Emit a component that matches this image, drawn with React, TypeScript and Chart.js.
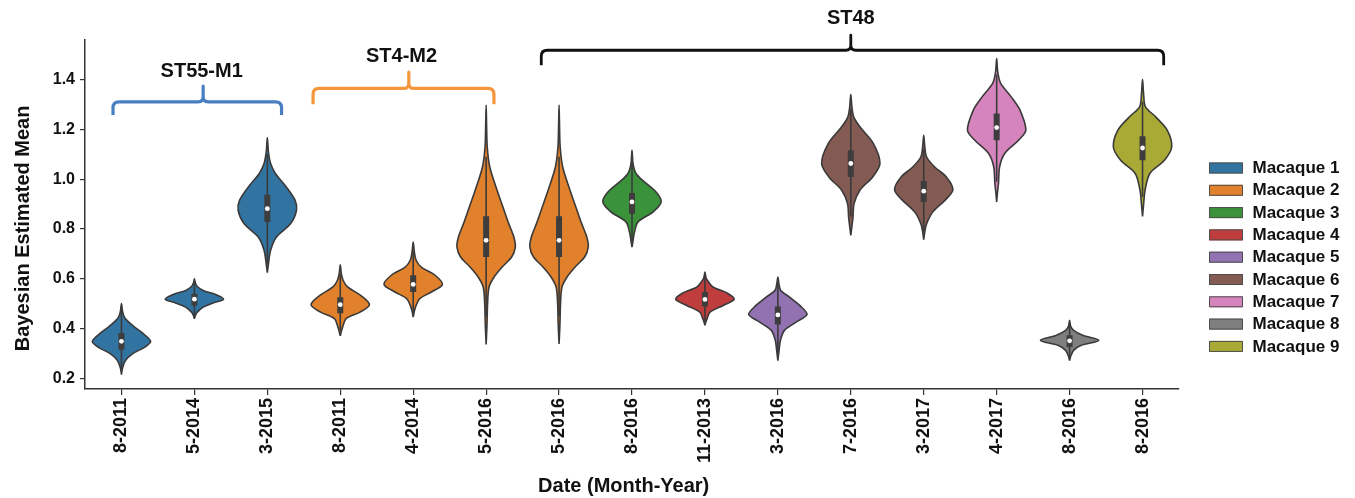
import React, { useEffect, useRef } from 'react';
import { Chart, registerables } from 'chart.js';

Chart.register(...registerables);

const FONT = '"Liberation Sans", Arial, Helvetica, sans-serif';

// ---- categories ----
const dates = ['8-2011', '5-2014', '3-2015', '8-2011', '4-2014', '5-2016', '5-2016', '8-2016', '11-2013', '3-2016', '7-2016', '3-2017', '4-2017', '8-2016', '8-2016'];
const macaqueOf = [1, 1, 1, 2, 2, 2, 2, 3, 4, 5, 6, 6, 7, 8, 9];
const macaqueNames = ['Macaque 1', 'Macaque 2', 'Macaque 3', 'Macaque 4', 'Macaque 5', 'Macaque 6', 'Macaque 7', 'Macaque 8', 'Macaque 9'];
const macaqueColors = ['#3274A1', '#E1812C', '#3A923A', '#C03D3E', '#9372B2', '#845B53', '#D684BD', '#7F7F7F', '#A9AA35'];

// ---- inner box statistics ----
const medians = [0.35, 0.519, 0.882, 0.497, 0.578, 0.755, 0.755, 0.909, 0.518, 0.456, 1.063, 0.952, 1.207, 0.352, 1.125];
const q1 = [0.316, 0.494, 0.828, 0.463, 0.548, 0.688, 0.688, 0.862, 0.49, 0.418, 1.009, 0.909, 1.156, 0.327, 1.076];
const q3 = [0.383, 0.541, 0.938, 0.527, 0.615, 0.851, 0.851, 0.945, 0.548, 0.49, 1.116, 0.993, 1.263, 0.374, 1.172];
const whiskerLow = [0.23, 0.45, 0.66, 0.39, 0.46, 0.45, 0.45, 0.74, 0.42, 0.30, 0.85, 0.79, 0.99, 0.28, 0.93];
const whiskerHigh = [0.48, 0.59, 1.10, 0.62, 0.71, 1.09, 1.09, 1.07, 0.62, 0.59, 1.28, 1.12, 1.42, 0.42, 1.31];

// ---- density profiles: [value, half-width in category units], bottom tip -> top tip ----
const shape01 = [[0.217, 0], [0.24, 0.012], [0.273, 0.055], [0.30, 0.15], [0.327, 0.32], [0.35, 0.40], [0.383, 0.29], [0.407, 0.18], [0.43, 0.09], [0.447, 0.04], [0.47, 0.015], [0.502, 0]];
const shape02 = [[0.441, 0], [0.455, 0.015], [0.467, 0.04], [0.487, 0.12], [0.503, 0.25], [0.519, 0.40], [0.538, 0.29], [0.554, 0.12], [0.57, 0.04], [0.585, 0.012], [0.601, 0]];
const shape03 = [[0.625, 0], [0.66, 0.015], [0.715, 0.045], [0.768, 0.125], [0.822, 0.32], [0.875, 0.40], [0.916, 0.38], [0.969, 0.26], [1.023, 0.11], [1.063, 0.045], [1.11, 0.015], [1.167, 0]];
const shape04 = [[0.372, 0], [0.39, 0.015], [0.41, 0.035], [0.441, 0.08], [0.467, 0.27], [0.497, 0.40], [0.534, 0.28], [0.568, 0.10], [0.594, 0.04], [0.62, 0.015], [0.657, 0]];
const shape05 = [[0.447, 0], [0.47, 0.015], [0.494, 0.04], [0.521, 0.09], [0.548, 0.25], [0.578, 0.40], [0.615, 0.30], [0.648, 0.11], [0.675, 0.04], [0.71, 0.015], [0.748, 0]];
const shape06 = [[0.338, 0], [0.42, 0.012], [0.502, 0.02], [0.568, 0.04], [0.608, 0.11], [0.648, 0.22], [0.688, 0.35], [0.728, 0.40], [0.768, 0.38], [0.822, 0.31], [0.889, 0.23], [0.956, 0.15], [1.049, 0.05], [1.13, 0.015], [1.22, 0.006], [1.297, 0]];
const shape07 = [[0.340, 0], [0.42, 0.012], [0.502, 0.02], [0.568, 0.04], [0.608, 0.11], [0.648, 0.22], [0.688, 0.35], [0.728, 0.40], [0.768, 0.38], [0.822, 0.31], [0.889, 0.23], [0.956, 0.15], [1.049, 0.05], [1.13, 0.015], [1.22, 0.006], [1.297, 0]];
const shape08 = [[0.728, 0], [0.755, 0.015], [0.782, 0.03], [0.828, 0.08], [0.869, 0.29], [0.909, 0.40], [0.949, 0.33], [0.989, 0.17], [1.023, 0.055], [1.06, 0.015], [1.116, 0]];
const shape09 = [[0.414, 0], [0.43, 0.015], [0.441, 0.03], [0.467, 0.07], [0.494, 0.25], [0.518, 0.40], [0.541, 0.32], [0.568, 0.11], [0.588, 0.05], [0.605, 0.015], [0.628, 0]];
const shape10 = [[0.273, 0], [0.31, 0.015], [0.354, 0.035], [0.394, 0.09], [0.427, 0.25], [0.458, 0.40], [0.494, 0.30], [0.527, 0.16], [0.554, 0.04], [0.58, 0.015], [0.608, 0]];
const shape11 = [[0.775, 0], [0.81, 0.015], [0.848, 0.03], [0.902, 0.045], [0.956, 0.125], [1.009, 0.30], [1.063, 0.40], [1.143, 0.31], [1.21, 0.125], [1.25, 0.04], [1.29, 0.015], [1.34, 0]];
const shape12 = [[0.758, 0], [0.79, 0.015], [0.822, 0.04], [0.869, 0.125], [0.915, 0.29], [0.958, 0.40], [1.009, 0.31], [1.049, 0.15], [1.089, 0.04], [1.13, 0.015], [1.176, 0]];
const shape13 = [[0.909, 0], [0.95, 0.012], [0.983, 0.025], [1.049, 0.04], [1.103, 0.11], [1.156, 0.30], [1.196, 0.40], [1.277, 0.32], [1.33, 0.20], [1.384, 0.055], [1.43, 0.015], [1.484, 0]];
const shape14 = [[0.273, 0], [0.29, 0.015], [0.314, 0.055], [0.334, 0.16], [0.354, 0.40], [0.374, 0.18], [0.394, 0.055], [0.41, 0.015], [0.434, 0]];
const shape15 = [[0.851, 0], [0.9, 0.015], [0.956, 0.035], [1.023, 0.10], [1.076, 0.30], [1.129, 0.40], [1.196, 0.34], [1.25, 0.18], [1.29, 0.04], [1.34, 0.015], [1.40, 0]];
const shapes = [shape01, shape02, shape03, shape04, shape05, shape06, shape07, shape08, shape09, shape10, shape11, shape12, shape13, shape14, shape15];

// ---- axis ticks ----
const yTicks = [0.2, 0.4, 0.6, 0.8, 1.0, 1.2, 1.4];

// ---- group brackets (x in category units, y in data units) ----
const bracketLabels = ['ST55-M1', 'ST4-M2', 'ST48'];
const bracketColors = ['#4A7EC2', '#F5963C', '#111111'];
const bracketStart = [-0.116, 2.627, 5.756];
const bracketEnd = [2.195, 5.107, 14.29];
const bracketPeak = [1.12, 3.94, 10.0];
const bracketFoot = [1.257, 1.30, 1.457];
const bracketLevel = [1.31, 1.364, 1.517];
const bracketTip = [1.373, 1.429, 1.577];
const bracketLabelX = [1.1, 3.84, 10.0];
const bracketLabelY = [1.43, 1.49, 1.643];

const overlayPlugin = {
  id: 'overlay',
  afterDraw(chart: any) {
    const { ctx, chartArea } = chart;
    const xs = chart.scales.x;
    const ys = chart.scales.y;
    ctx.save();
    bracketLabels.forEach((label, k) => {
      const x0 = xs.getPixelForValue(bracketStart[k]);
      const x1 = xs.getPixelForValue(bracketEnd[k]);
      const xp = xs.getPixelForValue(bracketPeak[k]);
      const yf = ys.getPixelForValue(bracketFoot[k]);
      const yl = ys.getPixelForValue(bracketLevel[k]);
      const yt = ys.getPixelForValue(bracketTip[k]);
      const r = 6;
      const c = 5;
      ctx.strokeStyle = bracketColors[k];
      ctx.lineWidth = k === 2 ? 2.8 : 3.2;
      ctx.lineJoin = 'round';
      ctx.lineCap = 'butt';
      ctx.beginPath();
      ctx.moveTo(x0, yf);
      ctx.lineTo(x0, yl + r);
      ctx.quadraticCurveTo(x0, yl, x0 + r, yl);
      ctx.lineTo(xp - c, yl);
      ctx.quadraticCurveTo(xp, yl, xp, yl - c);
      ctx.lineTo(xp, yt);
      ctx.lineTo(xp, yl - c);
      ctx.quadraticCurveTo(xp, yl, xp + c, yl);
      ctx.lineTo(x1 - r, yl);
      ctx.quadraticCurveTo(x1, yl, x1, yl + r);
      ctx.lineTo(x1, yf);
      ctx.stroke();
      ctx.fillStyle = '#111';
      ctx.font = `bold 20px ${FONT}`;
      ctx.textAlign = 'center';
      ctx.textBaseline = 'middle';
      ctx.fillText(label, xs.getPixelForValue(bracketLabelX[k]), ys.getPixelForValue(bracketLabelY[k]));
    });

    // legend
    const lx = chartArea.right + 30;
    macaqueNames.forEach((name, k) => {
      const cy = 168 + k * 22.3;
      ctx.fillStyle = macaqueColors[k];
      ctx.fillRect(lx, cy - 5.5, 34, 11);
      ctx.strokeStyle = '#4d4d4d';
      ctx.lineWidth = 1;
      ctx.strokeRect(lx + 0.5, cy - 5, 33, 10);
      ctx.fillStyle = '#111';
      ctx.font = `bold 17px ${FONT}`;
      ctx.textAlign = 'left';
      ctx.textBaseline = 'middle';
      ctx.fillText(name, lx + 43.5, cy + 0.5);
    });
    ctx.restore();
  },
};

export default function App() {
  const canvasRef = useRef<HTMLCanvasElement | null>(null);

  useEffect(() => {
    const canvas = canvasRef.current;
    if (!canvas) return;

    const violinSets = shapes.map((prof, i) => {
      const right = prof.map(([v, w]) => ({ x: i + w, y: v }));
      const left = prof.slice(0, -1).reverse().map(([v, w]) => ({ x: i - w, y: v }));
      return {
        label: dates[i],
        data: [...right, ...left],
        backgroundColor: macaqueColors[macaqueOf[i] - 1],
        borderColor: '#3a3a3a',
        borderWidth: 1.6,
        fill: 'shape',
        tension: 0.3,
        pointRadius: 0,
        order: 3,
      };
    });

    const whiskerData: any[] = [];
    const boxData: any[] = [];
    dates.forEach((_, i) => {
      whiskerData.push({ x: i, y: whiskerLow[i] }, { x: i, y: whiskerHigh[i] }, { x: i, y: null });
      boxData.push({ x: i, y: q1[i] }, { x: i, y: q3[i] }, { x: i, y: null });
    });

    const chart = new Chart(canvas, {
      type: 'line',
      data: {
        datasets: [
          ...violinSets,
          {
            label: 'whiskers',
            data: whiskerData,
            borderColor: '#3a3a3a',
            borderWidth: 1.6,
            pointRadius: 0,
            spanGaps: false,
            fill: false,
            order: 2,
          },
          {
            label: 'IQR',
            data: boxData,
            borderColor: '#3d3d3d',
            borderWidth: 6,
            borderCapStyle: 'butt',
            pointRadius: 0,
            spanGaps: false,
            fill: false,
            order: 1,
          },
          {
            label: 'median',
            data: medians.map((m, i) => ({ x: i, y: m })),
            showLine: false,
            pointRadius: 2.4,
            pointBackgroundColor: '#ffffff',
            pointBorderWidth: 0,
            order: 0,
          },
        ] as any,
      },
      options: {
        animation: false,
        responsive: false,
        events: [],
        layout: { padding: { top: 40, right: 176, bottom: 0, left: 0 } },
        plugins: {
          legend: { display: false },
          tooltip: { enabled: false },
        },
        scales: {
          x: {
            type: 'linear',
            min: -0.5,
            max: 14.5,
            afterBuildTicks: (s: any) => {
              s.ticks = dates.map((_, i) => ({ value: i }));
            },
            afterFit: (s: any) => {
              s.height = 109;
            },
            ticks: {
              autoSkip: false,
              minRotation: 90,
              maxRotation: 90,
              padding: 3,
              color: '#111',
              font: { family: FONT, size: 18, weight: 'bold' },
              callback: (v: any) => dates[Math.round(Number(v))] ?? '',
            },
            grid: { display: true, drawOnChartArea: false, drawTicks: true, tickLength: 6, color: '#333', lineWidth: 1.2 },
            border: { display: true, color: '#333', width: 1.5 },
            title: {
              display: true,
              text: 'Date (Month-Year)   ',
              color: '#111',
              font: { family: FONT, size: 20, weight: 'bold' },
              padding: { top: 0, bottom: 0 },
            },
          },
          y: {
            type: 'linear',
            min: 0.159,
            max: 1.558,
            afterBuildTicks: (s: any) => {
              s.ticks = yTicks.map((v) => ({ value: v }));
            },
            afterFit: (s: any) => {
              s.width = 85;
            },
            ticks: {
              padding: 5,
              color: '#111',
              font: { family: FONT, size: 16, weight: 'bold' },
              callback: (v: any) => Number(v).toFixed(1),
            },
            grid: { display: true, drawOnChartArea: false, drawTicks: true, tickLength: 5, color: '#333', lineWidth: 1.2 },
            border: { display: true, color: '#333', width: 1.5 },
            title: {
              display: true,
              text: 'Bayesian Estimated Mean     ',
              color: '#111',
              font: { family: FONT, size: 20, weight: 'bold' },
              padding: { top: 11, bottom: 0 },
            },
          },
        },
      } as any,
      plugins: [overlayPlugin],
    });

    return () => chart.destroy();
  }, []);

  return (
    <div style={{ position: 'fixed', left: 0, top: 0, width: 1355, height: 498, background: '#fff' }}>
      <canvas ref={canvasRef} width={1355} height={498} style={{ display: 'block' }} />
    </div>
  );
}
